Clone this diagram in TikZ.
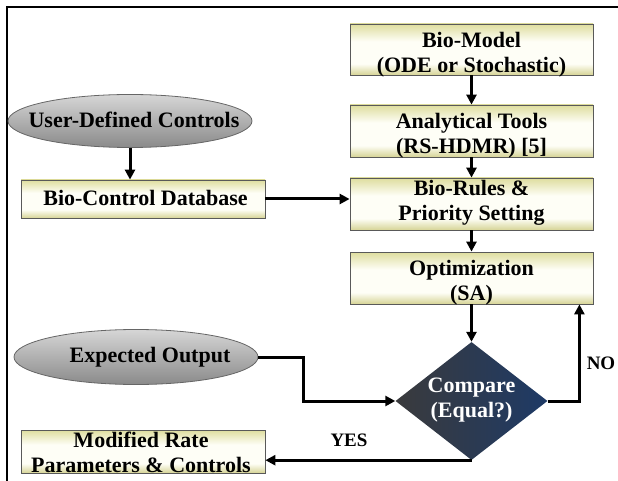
\documentclass[tikz,border=0pt]{standalone}
\usepackage{fontspec}
\setmainfont{Liberation Serif}
\usetikzlibrary{shapes.geometric,arrows.meta,calc}

\definecolor{boxtop}{RGB}{222,221,158}
\definecolor{boxmid}{RGB}{254,254,246}
\definecolor{boxbot}{RGB}{214,212,150}
\definecolor{ovaltop}{RGB}{214,214,214}
\definecolor{ovalbot}{RGB}{138,138,138}
\definecolor{navyfill}{RGB}{30,58,102}
\definecolor{slatefill}{RGB}{58,58,60}

% pale band across the middle of each process box, khaki towards the edges
\pgfdeclareverticalshading{boxshade}{100bp}{color(0bp)=(boxbot); color(25bp)=(boxbot);
  color(36bp)=(boxmid); color(58bp)=(boxmid); color(75bp)=(boxtop); color(100bp)=(boxtop)}

\begin{document}
\begin{tikzpicture}[x=1pt,y=-1pt,
  box/.style={draw=black!65, line width=0.8pt, shading=boxshade,
    minimum width=243pt, minimum height=52pt, inner sep=0pt},
  oval/.style={ellipse, draw=black!60, line width=0.8pt, top color=ovaltop, middle color=white,
    bottom color=ovalbot, minimum width=244pt, minimum height=53pt, inner sep=0pt},
  decision/.style={diamond, left color=slatefill, right color=navyfill,
    minimum width=152pt, minimum height=118pt, inner sep=0pt},
  txt/.style={font=\bfseries\fontsize{22}{25}\selectfont, align=center, inner sep=0pt},
  tag/.style={font=\bfseries\fontsize{19}{21}\selectfont, inner sep=0pt},
  flow/.style={line width=3pt, -{Triangle[length=10pt,width=10pt]}}
]
\useasboundingbox (0,0) rectangle (618,481);

% outer frame
\draw[line width=1.2pt] (7,481) -- (7,7) -- (618,7);

% right column
\node[box, minimum height=51pt] (bm) at (471.5,49.5) {};
\node[txt] (bmt) at (471.5,54.5) {Bio-Model\\(ODE or Stochastic)};
\node[box] (at) at (471.5,131) {};
\node[txt] (att) at (471.5,135.5) {Analytical Tools\\(RS-HDMR) [5]};
\node[box] (br) at (471.5,204) {};
\node[txt] (brt) at (471.5,203) {Bio-Rules \&\\Priority Setting};
\node[box] (opt) at (471.5,278) {};
\node[txt] (optt) at (471.5,282.5) {Optimization\\(SA)};

% decision
\node[decision] (cmp) at (471.5,401) {};
\node[txt, text=white] (cmpt) at (471.5,400) {Compare\\(Equal?)};

% left column
\node[oval] (udc) at (130,121) {};
\node[txt] (udct) at (134,120) {User-Defined Controls};
\node[box, minimum width=244pt, minimum height=38pt] (bcd) at (143,199) {};
\node[txt] (bcdt) at (145.5,197.5) {Bio-Control Database};
\node[oval, minimum height=55pt] (eo) at (136,357) {};
\node[txt] (eot) at (150,357) {Expected Output};
\node[box, minimum width=244pt, minimum height=43pt] (mrp) at (143,451.5) {};
\node[txt] (mrpt) at (141,452.5) {Modified Rate\\Parameters \& Controls};

% branch labels
\node[tag] (no) at (601,363) {NO};
\node[tag] (yes) at (349,440) {YES};

% connectors
\draw[flow] (bm.south) -- (at.north);
\draw[flow] (at.south) -- (br.north);
\draw[flow] (br.south) -- (opt.north);
\draw[flow] (opt.south) -- (cmp.north);
\draw[flow] (udc.south) -- (udc.south |- bcd.north);
\draw[flow] (bcd.east) -- (bcd.east -| br.west);
\draw[flow] (eo.east) -- ++(45,0) |- (cmp.west);
\draw[flow] (cmp.east) -| ([xshift=-14pt]opt.south east);
\draw[flow] (cmp.south) -- (cmp.south -| mrp.east);
\end{tikzpicture}
\end{document}
